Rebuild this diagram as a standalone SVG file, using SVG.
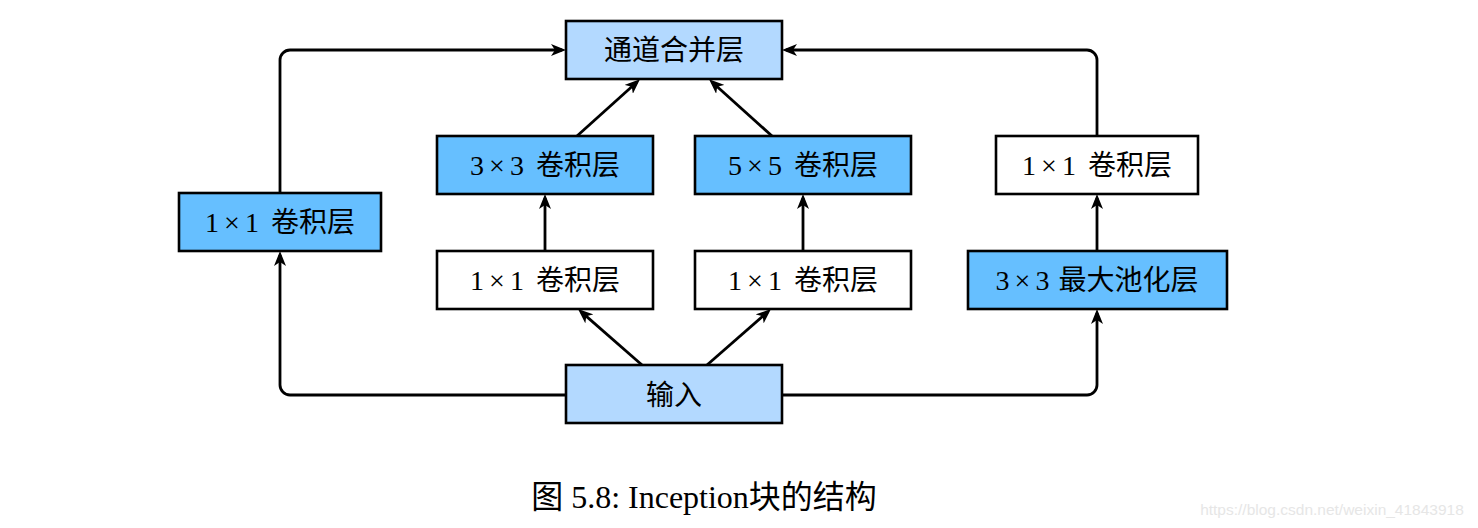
<svg xmlns="http://www.w3.org/2000/svg" width="1478" height="528" viewBox="0 0 1478 528">
<style>
.box{stroke:#000;stroke-width:2.6}
.light{fill:#b3d9ff}
.mid{fill:#66bfff}
.white{fill:#fff}
.lbl{font-family:"Liberation Serif","Noto Sans CJK SC",serif;font-size:28px;fill:#000;text-anchor:middle}
.cn{font-family:"Noto Sans CJK SC",sans-serif;font-size:28px;fill:#000;text-anchor:middle}
.conn{fill:none;stroke:#000;stroke-width:2.8;marker-end:url(#arr)}
</style>
<defs>
<marker id="arr" viewBox="0 0 15 12" refX="11" refY="6" markerWidth="15" markerHeight="12" markerUnits="userSpaceOnUse" orient="auto">
<path d="M0,0 L15,6 L0,12 L4,6 Z" fill="#000"/>
</marker>
</defs>
<rect width="1478" height="528" fill="#fff"/>
<g id="connectors">
<path class="conn" d="M566,395 H290 A10,10 0 0 1 280,385 V255"/>
<path class="conn" d="M280,193 V60 A10,10 0 0 1 290,50 H562"/>
<path class="conn" d="M782,395 H1087 A10,10 0 0 0 1097,385 V313"/>
<path class="conn" d="M1097,136 V60 A10,10 0 0 0 1087,50 H786"/>
<path class="conn" d="M545,251 V198"/>
<path class="conn" d="M803,251 V198"/>
<path class="conn" d="M1097,251 V198"/>
<path class="conn" d="M642,365 L581,311.6"/>
<path class="conn" d="M707,365 L768,311.6"/>
<path class="conn" d="M577,136 L637,82"/>
<path class="conn" d="M772,136 L712,82"/>
</g>
<g id="concat">
<rect class="box light" x="566" y="21" width="216" height="58"/>
<text class="cn" x="674" y="60">通道合并层</text>
</g>
<g id="conv1x1-left">
<rect class="box mid" x="179" y="193" width="202" height="58"/>
<text class="lbl" x="280" y="232">1<tspan dx="5">×</tspan><tspan dx="5">1</tspan><tspan dx="5"> 卷积层</tspan></text>
</g>
<g id="conv3x3">
<rect class="box mid" x="437" y="136" width="216" height="58"/>
<text class="lbl" x="545" y="175">3<tspan dx="5">×</tspan><tspan dx="5">3</tspan><tspan dx="5"> 卷积层</tspan></text>
</g>
<g id="conv1x1-a">
<rect class="box white" x="437" y="251" width="216" height="58"/>
<text class="lbl" x="545" y="290">1<tspan dx="5">×</tspan><tspan dx="5">1</tspan><tspan dx="5"> 卷积层</tspan></text>
</g>
<g id="conv5x5">
<rect class="box mid" x="695" y="136" width="216" height="58"/>
<text class="lbl" x="803" y="175">5<tspan dx="5">×</tspan><tspan dx="5">5</tspan><tspan dx="5"> 卷积层</tspan></text>
</g>
<g id="conv1x1-b">
<rect class="box white" x="695" y="251" width="216" height="58"/>
<text class="lbl" x="803" y="290">1<tspan dx="5">×</tspan><tspan dx="5">1</tspan><tspan dx="5"> 卷积层</tspan></text>
</g>
<g id="conv1x1-right">
<rect class="box white" x="996" y="136" width="202" height="58"/>
<text class="lbl" x="1097" y="175">1<tspan dx="5">×</tspan><tspan dx="5">1</tspan><tspan dx="5"> 卷积层</tspan></text>
</g>
<g id="maxpool">
<rect class="box mid" x="968" y="251" width="259" height="58"/>
<text class="lbl" x="1097" y="290">3<tspan dx="5">×</tspan><tspan dx="5">3</tspan><tspan dx="2"> 最大池化层</tspan></text>
</g>
<g id="input">
<rect class="box light" x="566" y="365" width="216" height="58"/>
<text class="cn" x="674" y="405">输入</text>
</g>
<text x="704" y="508" font-family="Liberation Serif,'Noto Sans CJK SC',serif" font-size="32" text-anchor="middle" fill="#000">图 5.8: Inception块的结构</text>
<text x="1332" y="515" font-family="Liberation Sans,sans-serif" font-size="15.5" text-anchor="middle" fill="#e6e6e6">https://blog.csdn.net/weixin_41843918</text>
</svg>
